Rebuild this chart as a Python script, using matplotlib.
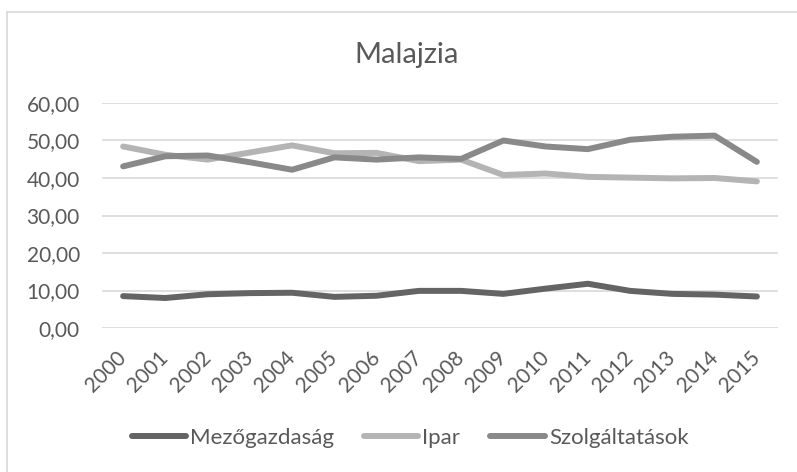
import matplotlib
matplotlib.use("Agg")
import matplotlib.pyplot as plt
from matplotlib.lines import Line2D
from matplotlib.ticker import FuncFormatter

years = [str(y) for y in range(2000, 2016)]
mezogazdasag = [8.5, 8.0, 9.0, 9.3, 9.4, 8.3, 8.6, 9.9, 9.9, 9.1, 10.5, 11.8, 9.9, 9.1, 8.9, 8.4]
ipar = [48.4, 46.2, 44.9, 46.8, 48.7, 46.6, 46.7, 44.5, 44.9, 40.8, 41.2, 40.3, 40.1, 39.9, 40.0, 39.1]
szolgaltatasok = [43.1, 45.8, 46.0, 44.2, 42.2, 45.5, 44.9, 45.5, 45.1, 50.0, 48.4, 47.7, 50.2, 51.0, 51.3, 44.3]
series_names = ["Mezőgazdaság", "Ipar", "Szolgáltatások"]
title = "Malajzia"

text_color = "#595959"
grid_color = "#d9d9d9"
colors = ["#646464", "#b4b4b4", "#898989"]

plt.rcParams['font.family'] = ['Lato', 'DejaVu Sans']

fig = plt.figure(figsize=(7.97, 4.72), dpi=100)
ax = fig.add_axes([102/797, 1 - 328/472, (778-102)/797, (328-103)/472])

x = list(range(len(years)))
for vals, name, c in zip([mezogazdasag, ipar, szolgaltatasok], series_names, colors):
    ax.plot(x, vals, color=c, lw=4.3, label=name, solid_capstyle='round', solid_joinstyle='round')

ax.set_xlim(-0.5, len(years) - 0.5)
ax.set_ylim(0, 60)
ax.set_yticks(range(0, 61, 10))
ax.yaxis.set_major_formatter(FuncFormatter(lambda v, p: f"{v:.2f}".replace(".", ",")))
ax.set_xticks(x)
ax.set_xticklabels(years, rotation=45, ha='right', va='center', rotation_mode='anchor')
ax.grid(axis='y', color=grid_color, lw=1.2)
ax.set_axisbelow(True)
for s in ax.spines.values():
    s.set_visible(False)
ax.tick_params(axis='both', length=0, labelsize=15, colors=text_color)
ax.tick_params(axis='y', pad=16)
ax.tick_params(axis='x', pad=19)

fig.text(407/797, 1 - 55/472, title, ha='center', va='center', fontsize=21, color=text_color)

leg = fig.legend(loc='center', bbox_to_anchor=(410/797, 1 - 438/472), ncol=3, frameon=False,
                 fontsize=16, handlelength=2.45, handletextpad=0.18, columnspacing=1.35,
                 labelcolor=text_color)

# chart area border (top and left visible)
fig.add_artist(Line2D([7.5/797, 7.5/797], [0, 1 - 11.5/472], transform=fig.transFigure, color=grid_color, lw=1.2))
fig.add_artist(Line2D([7.5/797, 1], [1 - 11.5/472, 1 - 11.5/472], transform=fig.transFigure, color=grid_color, lw=1.2))

fig.savefig("out.png", dpi=100)
